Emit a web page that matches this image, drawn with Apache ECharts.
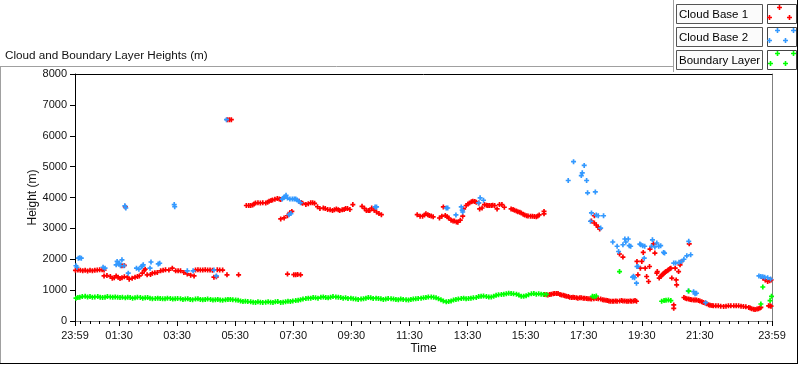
<!DOCTYPE html>
<html><head><meta charset="utf-8">
<script src="https://cdn.jsdelivr.net/npm/echarts@6/dist/echarts.min.js"></script>
<style>html,body{margin:0;padding:0;background:#fff}#c{width:800px;height:365px}</style>
</head><body><div id="c"></div>
<script>
// time axis in minutes since midnight; -1 = 23:59 of previous day
const timeLabelValues = [-1, 90, 210, 330, 450, 570, 690, 810, 930, 1050, 1170, 1290, 1439];
const timeLabels = ['23:59','01:30','03:30','05:30','07:30','09:30','11:30','13:30','15:30','17:30','19:30','21:30','23:59'];
const seriesNames = ['Cloud Base 1', 'Cloud Base 2', 'Boundary Layer'];
const seriesColors = ['#ff0000', '#3399ff', '#00ff00'];

const cloudBase1 = [
[0,1640],[5,1650],[10,1640],[15,1630],[20,1640],[25,1620],[30,1640],[35,1630],[40,1640],[45,1650],[50,1660],[55,1660],[59,1650],
[59,1460],[65,1475],[72,1440],[76,1385],[80,1400],[84,1460],[88,1420],[92,1375],[96,1400],[101,1430],
[96,1790],[101,1800],[103,3695],
[107,1420],[111,1355],[117,1385],[123,1420],[128,1440],[132,1460],[138,1550],[142,1635],[144,1680],
[148,1495],[155,1510],[159,1550],[164,1560],[169,1570],[176,1625],[181,1640],[186,1660],[193,1650],[200,1710],[207,1625],[212,1630],[217,1625],[224,1570],[231,1525],[238,1485],[245,1460],
[248,1650],[253,1660],[258,1650],[263,1650],[268,1660],[273,1650],[278,1650],[283,1640],[286,1420],[291,1430],[293,1660],[298,1650],[304,1650],[313,1495],[337,1495],
[314,6520],[318,6520],[322,6520],
[353,3740],[358,3740],[362,3740],[366,3760],[369,3790],[372,3825],[377,3830],[382,3825],[387,3830],[393,3825],[397,3850],[400,3880],[404,3900],[407,3920],[412,3940],[417,3965],[421,3950],[424,3935],
[462,3880],[466,3840],[469,3810],[476,3775],[481,3800],[486,3830],[490,3830],[494,3810],[500,3700],[505,3645],[512,3660],[516,3640],[521,3610],[526,3600],[531,3575],[535,3600],[539,3630],[543,3600],[546,3575],[551,3600],[555,3610],[558,3640],[562,3645],[567,3610],[573,3770],
[424,3305],[431,3340],[438,3410],[443,3510],[447,3550],
[438,1520],[451,1500],[455,1500],[459,1510],[465,1495],
[592,3715],[597,3650],[601,3575],[605,3580],[608,3575],[612,3660],[617,3590],[622,3530],[627,3480],[632,3445],
[706,3445],[712,3395],[717,3395],[721,3430],[724,3470],[728,3440],[731,3420],[735,3400],[739,3375],
[752,3335],[757,3395],[760,3695],[764,3420],[768,3380],[771,3335],[776,3265],[780,3240],[783,3235],[787,3210],[790,3200],[795,3265],[800,3395],
[802,3630],[807,3740],[811,3790],[814,3825],[818,3860],[821,3880],[825,3870],[828,3850],[833,3825],[835,3630],[840,3660],
[845,3770],[849,3750],[852,3740],[855,3740],[859,3740],[862,3750],[866,3740],[871,3630],[876,3770],[881,3770],[886,3685],
[900,3630],[904,3610],[907,3590],[911,3560],[914,3540],[918,3520],[921,3500],[925,3460],[928,3435],[932,3410],[935,3400],[940,3395],[944,3390],[948,3385],[952,3380],[955,3400],[958,3435],[968,3550],[968,3470],
[969,860],[973,850],[976,840],[980,860],[983,870],[987,880],[990,890],[994,890],[997,890],[1001,860],[1004,840],[1008,830],[1011,820],[1014,800],[1018,790],[1021,770],[1025,760],[1028,770],[1031,760],[1035,750],[1038,740],[1042,750],[1045,750],[1049,740],[1052,740],[1056,730],[1059,720],[1063,720],[1066,710],[1071,720],[1076,730],[1080,720],[1085,710],[1089,690],[1092,680],[1096,670],[1099,660],[1102,650],[1105,640],[1109,640],[1112,640],[1116,650],[1119,640],[1124,650],[1128,660],[1131,650],[1135,650],[1139,640],[1142,640],[1146,650],[1149,640],[1153,650],[1156,660],[1159,640],
[1066,3240],[1072,3410],[1072,3175],[1076,3110],[1080,3040],[1083,2980],
[1124,2170],[1131,2070],
[1160,1930],[1162,1495],[1167,1710],[1170,1930],[1173,2220],[1177,1710],[1180,1440],[1184,1280],[1186,1765],[1187,2330],[1194,2500],[1197,2200],[1201,1550],[1202,1600],[1206,1390],[1209,1440],[1211,1480],[1214,1520],[1216,1550],[1218,1580],[1220,1600],[1223,1630],[1225,1660],[1228,1690],[1230,1710],[1232,1390],[1236,520],[1236,410],[1239,1710],[1241,1330],[1242,1170],[1246,1600],[1249,1820],[1252,1930],[1268,2500],
[1257,760],[1260,740],[1263,720],[1267,710],[1270,700],[1273,690],[1277,680],[1280,680],[1283,680],[1287,660],[1290,650],[1294,620],[1297,600],[1301,580],[1304,560],[1308,530],[1311,510],[1315,500],[1318,490],[1323,490],[1328,490],[1333,480],[1339,470],[1344,480],[1349,490],[1354,490],[1360,490],[1365,490],[1370,490],[1375,480],[1380,470],[1385,460],[1391,440],[1394,420],[1397,400],[1401,380],[1404,370],[1408,390],[1411,400],[1414,420],[1416,440],[1432,490],[1435,490],[1437,480],
[1420,1390],[1425,1330],[1430,1280],[1434,1300],[1437,1330]
];

const cloudBase2 = [
[1,1790],[3,1740],[6,2035],[9,2050],[12,2035],[57,1740],[61,1710],[84,1820],[86,1930],[89,1850],[91,1870],[93,1790],[96,1980],[100,1790],[102,3730],[104,3660],[109,1550],
[126,1710],[131,1680],[136,1765],[138,1780],[140,1820],[154,1710],[156,1910],[171,1850],[174,1870],[204,3770],[205,3700],[231,1625],[243,1625],[286,1650],[291,1460],[312,6520],
[427,3950],[430,3990],[432,4020],[435,4070],[438,3980],[441,3445],[443,3950],[445,3480],[448,3950],[452,3950],[455,3950],[458,3920],[461,3880],[465,3830],
[619,3695],[622,3695],[766,3660],[769,3660],[786,3435],[797,3695],[799,3590],[800,3530],[833,3825],[836,3990],[843,3910],
[1018,4550],[1029,5160],[1045,4710],[1047,4800],[1051,5040],[1056,4550],[1058,4150],[1074,4180],
[1064,3230],[1066,3500],[1076,3430],[1080,3410],[1085,3010],[1091,3410],
[1110,2560],[1119,2420],[1122,2250],[1131,2470],[1135,2655],[1137,2560],[1142,2655],[1144,2440],[1147,2420],
[1151,1420],[1153,1450],[1155,1400],[1159,1225],[1160,1765],[1162,1765],
[1166,2490],[1168,2470],[1172,2440],[1176,2420],[1175,2035],[1190,2420],[1192,2630],[1197,2400],[1201,2525],[1205,2420],[1209,2440],[1215,2220],[1217,2200],
[1236,1875],[1240,1875],[1247,1900],[1252,1930],[1257,2000],[1263,2110],[1267,2580],[1271,2145],
[1266,975],[1277,950],[1280,880],[1283,900],[1302,595],
[1412,1460],[1416,1440],[1420,1430],[1424,1420],[1430,1400],[1436,1360]
];

const boundaryLayer = [
[1,740],[5,760],[9,770],[14,790],[20,800],[25,780],[30,790],[35,770],[40,780],[46,790],[51,770],[56,760],[61,770],[66,790],[72,780],[77,770],[82,780],[87,770],[92,760],[97,770],[103,750],[108,770],[113,760],[118,740],[123,750],[128,770],[134,760],[139,740],[144,750],[149,760],[154,740],[159,720],[165,730],[170,740],[175,730],[180,720],[185,720],[190,740],[196,730],[201,710],[206,720],[211,730],[217,720],[222,700],[227,710],[232,720],[237,700],[242,690],[248,710],[253,720],[258,700],[263,690],[268,700],[273,710],[279,700],[284,680],[289,690],[294,700],[299,680],[304,670],[310,690],[315,700],[320,700],[325,690],[331,680],[336,670],[341,650],[346,630],[351,640],[356,630],[362,620],[367,610],[372,600],[377,620],[382,610],[387,600],[393,610],[398,620],[403,610],[408,600],[413,620],[418,630],[424,600],[429,610],[434,620],[439,640],[444,630],[449,650],[455,660],[460,670],[465,690],[470,710],[476,730],[481,740],[486,740],[491,760],[496,750],[501,740],[507,770],[512,780],[517,760],[522,750],[527,770],[532,790],[538,780],[543,770],[548,760],[553,740],[558,750],[563,730],[569,740],[574,720],[579,710],[584,700],[590,710],[595,720],[600,740],[605,760],[610,750],[615,730],[621,740],[626,730],[631,720],[636,700],[641,710],[646,730],[652,720],[657,710],[662,700],[667,690],[672,710],[677,700],[683,690],[688,680],[693,700],[698,710],[703,720],[708,730],[714,740],[719,750],[724,760],[729,780],[735,780],[740,770],[745,750],[750,720],[755,690],[760,650],[766,620],[771,630],[776,650],[781,680],[786,700],[791,710],[797,730],[802,740],[807,720],[812,730],[817,740],[822,750],[828,760],[833,790],[838,800],[843,810],[849,790],[854,780],[859,780],[864,800],[869,830],[874,850],[880,860],[885,870],[890,880],[895,900],[900,890],[905,880],[911,870],[916,840],[921,800],[926,800],[931,820],[936,850],[942,880],[947,890],[952,870],[957,880],[962,870],[967,860],[973,860],
[1068,800],[1072,790],[1076,810],[1124,1600],[1211,640],[1216,660],[1220,670],[1225,680],[1230,660],[1267,970],[1416,550],[1420,1100],[1435,660],[1438,800]
];

const minorTickValues = [];
for (let m = 10; m < 1439; m += 20) minorTickValues.push(m);

const FONT = 'Liberation Sans, Arial, sans-serif';
const PLUS = 'path://M5 0H10V5H15V10H10V15H5V10H0V5H5Z';
const TXT = '#111';

function plusMark(cx, cy, color) {
  const a = 0.8, L = 2.5;
  return {type:'polygon', shape:{points:[
    [cx-a,cy-L],[cx+a,cy-L],[cx+a,cy-a],[cx+L,cy-a],[cx+L,cy+a],[cx+a,cy+a],
    [cx+a,cy+L],[cx-a,cy+L],[cx-a,cy+a],[cx-L,cy+a],[cx-L,cy-a],[cx-a,cy-a]]},
    style:{fill:color, stroke:null}, z:10};
}
const legendRows = [4, 27, 50];
const legendMarks = [
  [[779.5,7.5],[769.5,17.5],[789.5,17.5]],
  [[777.5,30.5],[793.5,30.5],[769.5,40.5],[785.5,40.5]],
  [[777.5,53.5],[793.5,53.5],[770.5,63.5],[785.5,63.5]]
];
const graphics = [
  {type:'line', shape:{x1:0, y1:66.5, x2:673, y2:66.5}, style:{stroke:'#a0a0a0', lineWidth:1}},
  {type:'line', shape:{x1:0.5, y1:66, x2:0.5, y2:364}, style:{stroke:'#a0a0a0', lineWidth:1}},
  {type:'line', shape:{x1:0, y1:363.5, x2:798, y2:363.5}, style:{stroke:'#000', lineWidth:1}},
  {type:'line', shape:{x1:797.5, y1:0, x2:797.5, y2:364}, style:{stroke:'#000', lineWidth:1}},
  {type:'line', shape:{x1:673.5, y1:0, x2:673.5, y2:72}, style:{stroke:'#a0a0a0', lineWidth:1}}
];
seriesNames.forEach((n, i) => {
  const y = legendRows[i];
  graphics.push({type:'rect', shape:{x:676.5, y:y+0.5, width:86, height:19}, style:{fill:'#fbfbfb', stroke:'#555', lineWidth:1}});
  graphics.push({type:'text', x:679, y:y+10.5, style:{text:n, font:'11.5px ' + FONT, fill:'#000', verticalAlign:'middle'}});
  graphics.push({type:'rect', shape:{x:767.5, y:y+0.5, width:29, height:19}, style:{fill:'#fff', stroke:'#444', lineWidth:1}});
  legendMarks[i].forEach(p => graphics.push(plusMark(p[0], p[1], seriesColors[i])));
});

const chart = echarts.init(document.getElementById('c'), null, {renderer:'canvas'});
chart.setOption({
  animation: false,
  backgroundColor: '#fff',
  title: {text:'Cloud and Boundary Layer Heights (m)', left:0, top:45, textStyle:{fontSize:11.7, fontWeight:'normal', color:TXT, fontFamily:FONT}},
  grid: {left:75, right:28, top:74, bottom:44, containLabel:false},
  xAxis: [
    {type:'value', min:-1, max:1439, position:'bottom',
     name:'Time', nameLocation:'middle', nameGap:22, nameMoveOverlap:false, nameTextStyle:{fontSize:12, color:TXT, fontFamily:FONT},
     axisLine:{show:true, onZero:false, lineStyle:{color:'#808080'}},
     axisTick:{show:true, customValues: timeLabelValues, length:5, lineStyle:{color:'#000'}},
     axisLabel:{show:true, customValues: timeLabelValues, margin:9, fontSize:11, color:TXT, fontFamily:FONT,
       formatter: v => timeLabels[timeLabelValues.indexOf(v)]},
     splitLine:{show:false}},
    {type:'value', min:-1, max:1439, position:'bottom',
     axisLine:{show:false}, axisLabel:{show:false}, splitLine:{show:false},
     axisTick:{show:true, customValues: minorTickValues, length:3, lineStyle:{color:'#000'}}},
    {type:'value', min:-1, max:1439, position:'top',
     axisLine:{show:true, onZero:false, lineStyle:{color:'#000'}}, axisLabel:{show:false}, axisTick:{show:false}, splitLine:{show:false}}
  ],
  yAxis: [
    {type:'value', min:0, max:8000, interval:1000, position:'left',
     name:'Height (m)', nameLocation:'middle', nameGap:36, nameMoveOverlap:false, nameTextStyle:{fontSize:12, color:TXT, fontFamily:FONT},
     axisLine:{show:true, onZero:false, lineStyle:{color:'#000'}},
     axisTick:{show:true, length:5, lineStyle:{color:'#000'}},
     axisLabel:{margin:8, fontSize:11, color:TXT, fontFamily:FONT, formatter: v => String(v)},
     splitLine:{show:false}},
    {type:'value', min:0, max:8000, position:'right',
     axisLine:{show:true, onZero:false, lineStyle:{color:'#808080'}}, axisLabel:{show:false}, axisTick:{show:false}, splitLine:{show:false}}
  ],
  series: [
    {name:seriesNames[0], type:'scatter', data:cloudBase1, symbol:PLUS, symbolSize:5, itemStyle:{color:seriesColors[0], opacity:1}, z:2},
    {name:seriesNames[1], type:'scatter', data:cloudBase2, symbol:PLUS, symbolSize:5, itemStyle:{color:seriesColors[1], opacity:1}, z:3},
    {name:seriesNames[2], type:'scatter', data:boundaryLayer, symbol:PLUS, symbolSize:5, itemStyle:{color:seriesColors[2], opacity:1}, z:4}
  ],
  graphic: graphics
});
</script></body></html>
